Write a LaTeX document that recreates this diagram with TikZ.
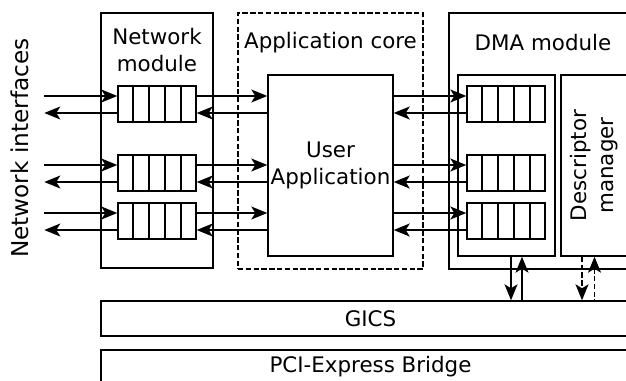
\documentclass[tikz,border=0pt]{standalone}
\usepackage{fontspec}
\setmainfont{DejaVu Sans}
\usetikzlibrary{arrows.meta,calc,positioning}

\tikzset{
	box/.style={draw, line width=0.7pt, inner sep=0pt, align=center},
	title/.style={inner sep=0pt, align=center},
	queue/.style={box, minimum width=39pt, minimum height=18pt},
	cell/.style={line width=0.7pt},
	fwd/.style={line width=0.65pt, -{Stealth[length=8pt,width=6.5pt,inset=2pt]}},
	bwd/.style={line width=0.65pt, {Stealth[length=8pt,width=6.5pt,inset=2pt]}-},
	dashline/.style={dash pattern=on 2.7pt off 1.2pt}
}

\begin{document}
\begin{tikzpicture}[x=0.5pt,y=-0.5pt,font=\fontsize{10.7}{13.5}\selectfont]
	\clip (0,0) rectangle (626,380);
	% Define nodes
	\node[box, minimum width=56pt, minimum height=127.5pt] (netmod) at (157,140.5) {};
	\node[box, dashline, minimum width=92.5pt, minimum height=128pt] (appcore) at (330.5,141) {};
	\node[box, minimum width=94pt, minimum height=128pt] (dmamod) at (543,141) {};
	\node[box, minimum width=62.5pt, minimum height=90.5pt] (app) at (330.5,165.5) {User\\Application};
	\node[box, minimum width=48.5pt, minimum height=90.5pt] (dmaq) at (506.5,165.5) {};
	\node[box, rotate=90, minimum width=90.5pt, minimum height=33.5pt] (desc) at (594.5,165.5) {Descriptor\\manager};
	\node[box, minimum width=269.5pt, minimum height=17.5pt] (gics) at (370.5,318.5) {GICS};
	\node[box, minimum width=269.5pt, minimum height=17pt] (pci) at (370.5,367) {PCI-Express Bridge};

	\node[title] (nettitle) at (157,50) {Network\\module};
	\node[title] (apptitle) at (330.5,43) {Application core};
	\node[title] (dmatitle) at (543,43) {DMA module};
	\node[title, rotate=90, font=\fontsize{11.6}{14}\selectfont] (netif) at (20,148) {Network interfaces};

	% Queues
	\foreach \i/\y in {1/104,2/173,3/221} {
		\node[queue] (nq\i) at (157,\y) {};
		\node[queue] (dq\i) at (506,\y) {};
		\foreach \q in {nq\i,dq\i}
			\foreach \k in {1,...,4}
				\draw[cell] ($(\q.south west)!\k/5!(\q.south east)$) -- ($(\q.north west)!\k/5!(\q.north east)$);
	}

	% Connect the nodes
	\foreach \i in {1,2,3} {
		\draw[bwd] ([yshift=4pt]nq\i.west) -- ++(-73,0);
		\draw[fwd] ([yshift=-4.5pt]nq\i.west) -- ++(-73,0);
		\draw[fwd] ([yshift=4pt]nq\i.east) -- ([yshift=4pt]nq\i.east -| app.west);
		\draw[bwd] ([yshift=-4.5pt]nq\i.east) -- ([yshift=-4.5pt]nq\i.east -| app.west);
		\draw[fwd] ([yshift=4pt]dq\i.west -| app.east) -- ([yshift=4pt]dq\i.west);
		\draw[bwd] ([yshift=-4.5pt]dq\i.west -| app.east) -- ([yshift=-4.5pt]dq\i.west);
	}
	\draw[fwd] ([xshift=2.25pt]dmaq.south) -- ([xshift=2.25pt]dmaq.south |- gics.north);
	\draw[bwd] ([xshift=7.75pt]dmaq.south) -- ([xshift=7.75pt]dmaq.south |- gics.north);
	\draw[fwd, dashline] ([xshift=-6.25pt]desc.west) -- ([xshift=-6.25pt]desc.west |- gics.north);
	\draw[bwd, dashline] (desc.west) -- (desc.west |- gics.north);
\end{tikzpicture}
\end{document}
